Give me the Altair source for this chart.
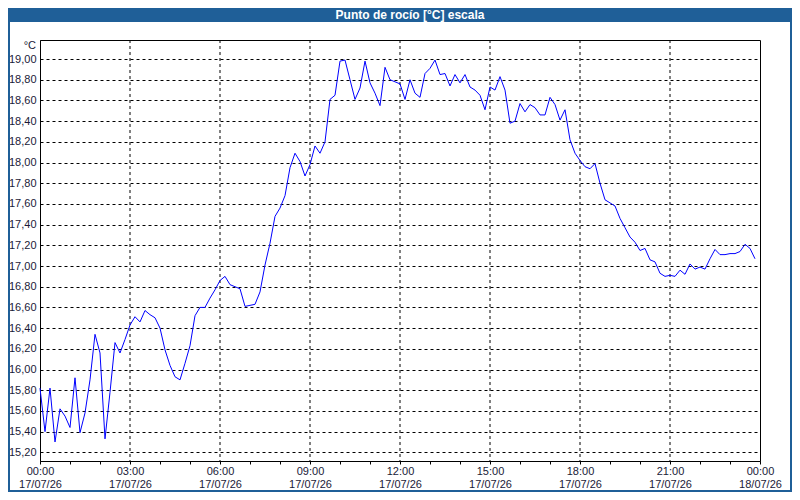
import altair as alt
import pandas as pd

DAY = "2026-07-17"
STEP_MIN = 10
TITLE = "Punto de rocío [°C] escala"
UNIT = "°C"

# dew point every 10 minutes, 00:00 .. 23:50
DEW_POINT = [
    15.82, 15.40, 15.82, 15.30, 15.62, 15.55, 15.44, 15.92, 15.39, 15.58, 15.90, 16.34,
    16.16, 15.33, 15.78, 16.26, 16.16, 16.29, 16.43, 16.51, 16.46, 16.57, 16.53, 16.50,
    16.40, 16.19, 16.04, 15.93, 15.90, 16.06, 16.23, 16.52, 16.60, 16.60, 16.69, 16.77,
    16.86, 16.90, 16.82, 16.80, 16.78, 16.61, 16.62, 16.63, 16.75, 17.01, 17.22, 17.48,
    17.56, 17.68, 17.95, 18.09, 18.01, 17.87, 17.98, 18.16, 18.09, 18.20, 18.61, 18.65,
    18.98, 18.99, 18.80, 18.61, 18.72, 18.98, 18.77, 18.67, 18.55, 18.92, 18.80, 18.78,
    18.76, 18.61, 18.80, 18.67, 18.63, 18.86, 18.91, 18.99, 18.85, 18.86, 18.74, 18.85,
    18.77, 18.85, 18.73, 18.70, 18.65, 18.51, 18.73, 18.70, 18.83, 18.70, 18.38, 18.40,
    18.57, 18.49, 18.56, 18.53, 18.46, 18.46, 18.63, 18.56, 18.41, 18.51, 18.22, 18.09,
    18.02, 17.96, 17.94, 17.99, 17.80, 17.64, 17.61, 17.58, 17.46, 17.37, 17.28, 17.23,
    17.15, 17.17, 17.06, 17.04, 16.93, 16.90, 16.91, 16.90, 16.96, 16.92, 17.02, 16.97,
    16.99, 16.97, 17.07, 17.16, 17.11, 17.11, 17.12, 17.12, 17.14, 17.21, 17.17, 17.07,
]
GRID_HOURS = [3, 6, 9, 12, 15, 18, 21]
Y_TICKS = [round(15.2 + 0.2 * i, 2) for i in range(20)]
Y_DOMAIN = [15.116, 19.184]

BAR_BLUE = "#1f5f98"
LABEL = "#1a1a38"
FONT = "Liberation Sans"


def stamp(minutes: int) -> str:
    return f"{DAY}T{minutes // 60:02d}:{minutes % 60:02d}:00Z"


series = pd.DataFrame({
    "t": [stamp(i * STEP_MIN) for i in range(len(DEW_POINT))],
    "v": DEW_POINT,
})
grid = pd.DataFrame({"t": [stamp(h * 60) for h in GRID_HOURS]})
one = pd.DataFrame({"k": [0]})

x_scale = alt.Scale(
    type="utc",
    domain=[
        alt.DateTime(year=2026, month=7, date=17, hours=0, utc=True),
        alt.DateTime(year=2026, month=7, date=18, hours=0, utc=True),
    ],
)
hour_ticks = [
    alt.DateTime(year=2026, month=7, date=17 + h // 24, hours=h % 24, utc=True) for h in range(25)
]
x_axis = alt.Axis(
    values=hour_ticks,
    grid=False,
    ticks=True,
    tickSize=3,
    labelPadding=1,
    labelAngle=0,
    labelAlign="center",
    labelBaseline="top",
    labelLineHeight=13,
    labelFlush=False,
    labelOverlap=False,
    labelBound=False,
    labelExpr="utchours(datum.value) % 3 == 0 ? [utcFormat(datum.value, '%H:%M'), utcFormat(datum.value, '%d/%m/%y')] : ''",
)

line = (
    alt.Chart(series)
    .mark_line(color="#0000ff", strokeWidth=1)
    .encode(
        x=alt.X("t:T", scale=x_scale, title="", axis=x_axis),
        y=alt.Y(
            "v:Q",
            scale=alt.Scale(domain=Y_DOMAIN, nice=False, zero=False),
            title="",
            axis=alt.Axis(
                values=Y_TICKS,
                ticks=False,
                grid=True,
                labelPadding=4,
                labelExpr="replace(format(datum.value, '.2f'), '.', ',')",
            ),
        ),
    )
)

vgrid = (
    alt.Chart(grid)
    .mark_rule(color="black", strokeWidth=1, strokeDash=[3, 3])
    .encode(x=alt.X("t:T", scale=x_scale, title="", axis=x_axis))
)

title_bar = alt.Chart(one).mark_rect(color=BAR_BLUE).encode(
    x=alt.value(-32), x2=alt.value(752), y=alt.value(-32), y2=alt.value(-18)
)
title_text = alt.Chart(one).mark_text(
    font=FONT, fontSize=12, fontWeight="bold", color="white", align="center", baseline="alphabetic"
).encode(x=alt.value(370), y=alt.value(-21), text=alt.value(TITLE))
border = alt.Chart(one).mark_rect(fillOpacity=0, stroke=BAR_BLUE, strokeWidth=2).encode(
    x=alt.value(-31), x2=alt.value(751), y=alt.value(-31), y2=alt.value(451)
)
unit = alt.Chart(one).mark_text(
    font=FONT, fontSize=11, color=LABEL, align="right", baseline="middle"
).encode(x=alt.value(-4), y=alt.value(6), text=alt.value(UNIT))

chart = (
    alt.layer(title_bar, border, title_text, unit, vgrid, line)
    .properties(
        width=720,
        height=421,
        autosize=alt.AutoSizeParams(type="none"),
        padding={"left": 32, "top": 32, "right": 32, "bottom": 31},
        background="white",
    )
    .configure_view(stroke="black", strokeWidth=1)
    .configure_axis(
        domainColor="black",
        tickColor="black",
        gridColor="black",
        gridDash=[3, 3],
        gridOpacity=1,
        labelFont=FONT,
        labelFontSize=11,
        labelColor=LABEL,
    )
)

chart.save("out.html", embed_options={"renderer": "svg", "actions": False})
